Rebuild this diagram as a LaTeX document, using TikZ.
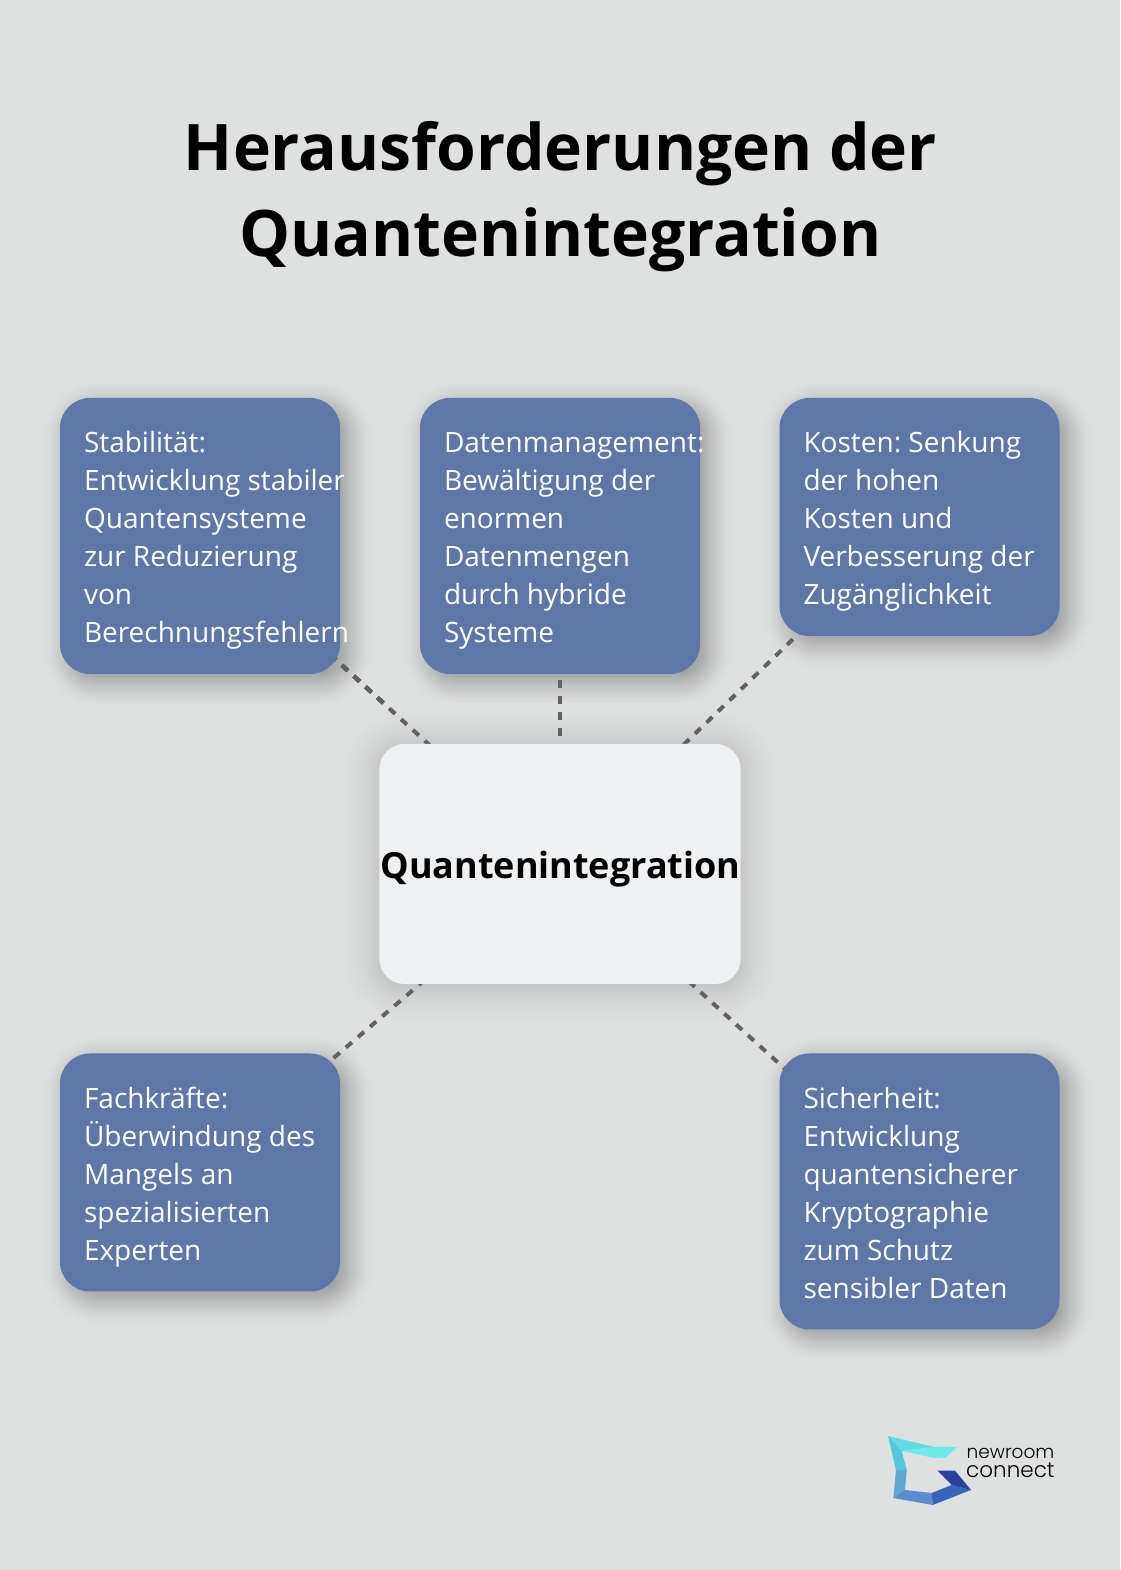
\documentclass[tikz,border=0pt]{standalone}
\usepackage{fontspec}
\setmainfont{Open Sans}
\newfontfamily\logofont[UprightFont=* Light]{Poppins}
\usetikzlibrary{backgrounds}
\definecolor{pagegray}{HTML}{DFE1E0}
\definecolor{boxblue}{HTML}{5D77A9}
\definecolor{centerwhite}{HTML}{EEF0F2}
\definecolor{linkgray}{HTML}{616161}
\tikzset{
  topicbox/.style={fill=boxblue, text=white, rounded corners=30pt, minimum width=280pt, inner xsep=24pt, inner ysep=0pt,
    font=\fontsize{28}{38}\selectfont\frenchspacing},
  centerbox/.style={fill=centerwhite, rounded corners=25pt, minimum width=360pt, minimum height=240pt, inner sep=0pt,
    font=\fontsize{36}{44}\selectfont\bfseries},
  linkline/.style={linkgray, line width=4pt, dash pattern=on 8pt off 8pt},
  logoword/.style={anchor=base west, inner sep=0pt, font=\logofont},
}
\newcommand{\boxlines}[2][-4.5pt]{\raisebox{#1}[\height][\depth]{\makebox[232pt][l]{\begin{tabular}{@{}l@{}}#2\end{tabular}}}}
% node, dx, dy, radius, strength, reach
\newcommand{\softshadow}[6]{%
  \foreach \k in {0,...,40} {
    \pgfmathsetmacro{\e}{#6*(1-\k/20)}
    \pgfmathsetmacro{\t}{\k/40}
    \pgfmathsetmacro{\s}{#5*\t*\t*(3-2*\t)}
    \pgfmathsetmacro{\r}{max(#4+\e,1)}
    \fill [black!\s!pagegray, rounded corners=\r] ([shift={(#2-\e,#3-\e)}]#1.south west) rectangle ([shift={(#2+\e,#3+\e)}]#1.north east);
  }
}
\begin{document}
\begin{tikzpicture}[x=1pt,y=1pt]
\useasboundingbox (0,0) rectangle (1120,1570);

\node (title) [align=center, font=\fontsize{64.2}{86}\selectfont\bfseries] at (560.5,1373) {Herausforderungen der\\Quantenintegration};

\node (stabil) [topicbox, minimum height=276pt] at (200,1034) {\boxlines[-3.5pt]{Stabilität:\\Entwicklung stabiler\\Quantensysteme\\zur Reduzierung\\von\\Berechnungsfehlern}};
\node (daten) [topicbox, minimum height=276pt] at (560,1034) {\boxlines[-3.5pt]{Datenmanagement:\\Bewältigung der\\enormen\\Datenmengen\\durch hybride\\Systeme}};
\node (kosten) [topicbox, minimum height=238pt] at (919.5,1053) {\boxlines[-3.5pt]{Kosten: Senkung\\der hohen\\Kosten und\\Verbesserung der\\Zugänglichkeit}};
\node (quant) [centerbox] at (560,706) {\hspace*{1pt}\raisebox{-14.5pt}[0pt][0pt]{Quantenintegration}};
\node (fach) [topicbox, minimum height=238pt] at (200,397.5) {\boxlines{Fachkräfte:\\Überwindung des\\Mangels an\\spezialisierten\\Experten}};
\node (sicher) [topicbox, minimum height=276pt] at (919.5,378.5) {\boxlines{Sicherheit:\\Entwicklung\\quantensicherer\\Kryptographie\\zum Schutz\\sensibler Daten}};

\begin{scope}[on background layer]
\fill [pagegray] (0,0) rectangle (1120,1570);
\foreach \n in {stabil,daten,kosten,fach,sicher}
  \softshadow{\n}{8}{-8}{30}{36}{28}
\softshadow{quant}{0}{-3}{25}{22}{44}
\draw [linkline] (stabil.center) -- (quant.center);
\draw [linkline] (daten.center) -- (quant.center);
\draw [linkline] (kosten.center) -- (quant.center);
\draw [linkline] (fach.center) -- (quant.center);
\draw [linkline] (sicher.center) -- (quant.center);
\end{scope}

% logo
\fill [color={rgb,255:red,94;green,219;blue,229}] (888,134) -- (934,123) -- (901.7,119) -- cycle;
\fill [color={rgb,255:red,110;green,236;blue,236}] (934,123) -- (957.3,123) -- (945,112) -- (934,112) -- (901.7,119) -- cycle;
\fill [color={rgb,255:red,88;green,197;blue,222}] (888,134) -- (901.7,119) -- (906.7,100) -- (896,100) -- cycle;
\fill [color={rgb,255:red,97;green,168;blue,208}] (896,100) -- (906.7,100) -- (905,80) -- (893.3,72) -- cycle;
\fill [color={rgb,255:red,92;green,140;blue,212}] (893.3,72) -- (905,80) -- (931.7,77) -- (932.7,65) -- cycle;
\fill [color={rgb,255:red,54;green,101;blue,186}] (931.7,77) -- (951.7,85) -- (971,80) -- (932.7,65) -- cycle;
\fill [color={rgb,255:red,44;green,64;blue,158}] (937.7,99.3) -- (955,99.3) -- (971,80) -- (951.7,85) -- cycle;
\node (logotop) [logoword] at (966.5,111) {\fontsize{18.5}{20}\selectfont newroom};
\node (logobottom) [logoword] at (966,92.3) {\fontsize{21.5}{20}\selectfont connect};
\end{tikzpicture}
\end{document}
